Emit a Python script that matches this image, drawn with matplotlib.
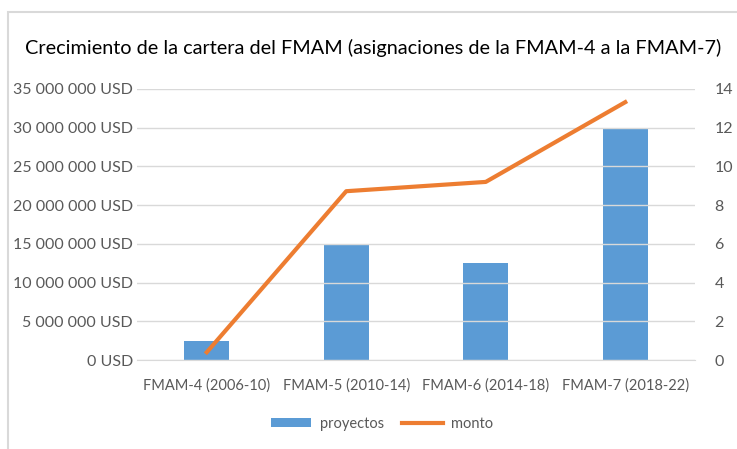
import matplotlib
matplotlib.use("Agg")
import matplotlib.pyplot as plt
from matplotlib.patches import Rectangle
from matplotlib.ticker import FuncFormatter

categories = ["FMAM-4 (2006-10)", "FMAM-5 (2010-14)", "FMAM-6 (2014-18)", "FMAM-7 (2018-22)"]
proyectos = [1, 6, 5, 12]
monto = [1_000_000, 21_800_000, 23_000_000, 33_300_000]

plt.rcParams['font.family'] = ['Lato', 'DejaVu Sans']
W, H = 737, 449
fig = plt.figure(figsize=(W / 100, H / 100), dpi=100)

# chart frame (only top and left edges fall inside the picture)
fig.patches.append(Rectangle((8 / W, -10 / H), 760 / W, (H - 12 + 10) / H, transform=fig.transFigure,
                             fill=False, edgecolor="#d9d9d9", linewidth=1.5))

ax = fig.add_axes([137 / W, 1 - 360 / H, (695 - 137) / W, (360 - 89) / H])
ax2 = ax.twinx()

x = list(range(len(categories)))
grey = "#595959"

# bars on the right axis (projects), line on the left axis (USD)
ax2.bar(x, proyectos, width=0.32, color="#5b9bd5", label="proyectos", zorder=2)
ax2.set_ylim(0, 14)
ax2.set_yticks(range(0, 15, 2))

ax.plot(x, monto, color="#ed7d31", linewidth=3, label="monto", zorder=5)
ax.set_ylim(0, 35_000_000)
ax.set_yticks(range(0, 35_000_001, 5_000_000))
ax.yaxis.set_major_formatter(FuncFormatter(lambda v, p: f"{int(v):,}".replace(",", " ") + " USD"))
ax.set_xlim(-0.5, 3.5)
ax.set_xticks(x)
ax.set_xticklabels(categories)

ax.set_zorder(ax2.get_zorder() + 1)
ax.patch.set_visible(False)

ax.yaxis.grid(True, color="#d9d9d9", linewidth=1)
ax.set_axisbelow(True)
for a in (ax, ax2):
    for s in a.spines.values():
        s.set_visible(False)
    a.tick_params(length=0, colors=grey)
ax.spines["bottom"].set_visible(True)
ax.spines["bottom"].set_color("#d9d9d9")
ax.tick_params(axis="y", labelsize=11.5, pad=3)
ax.tick_params(axis="x", labelsize=10.5, pad=13)
ax2.tick_params(axis="y", labelsize=11.5, pad=14)

fig.text(25 / W, 1 - 48 / H, "Crecimiento de la cartera del FMAM (asignaciones de la FMAM-4 a la FMAM-7)",
         fontsize=14.3, color="black", va="center", ha="left")

h1, l1 = ax2.get_legend_handles_labels()
h2, l2 = ax.get_legend_handles_labels()
fig.legend(h1 + h2, l1 + l2, loc="center", bbox_to_anchor=(382 / W, 1 - 424 / H), ncol=2,
           frameon=False, fontsize=10.5, labelcolor=grey, handlelength=2.8, handleheight=0.6,
           handletextpad=0.6, columnspacing=1.2)

fig.savefig("out.png", dpi=100)
